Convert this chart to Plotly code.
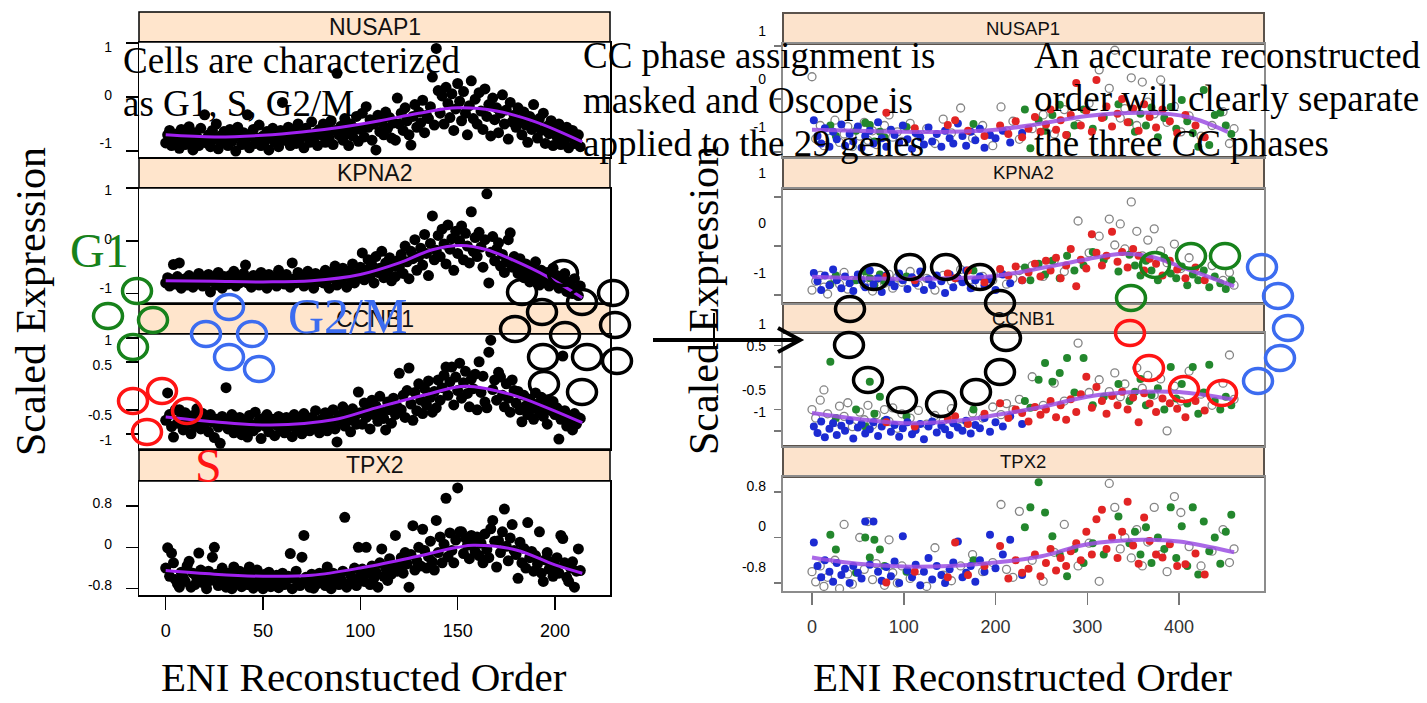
import plotly.graph_objects as go

W, H = 1427, 703

# ---------------- left: ENI reconstructed order (one value per cell, in order) ----------------
eni_nusap1 = [
    -0.85, -0.7, -0.62, -0.9, -0.75, -0.8, -0.68, -0.95, -0.6, -0.78, -0.88, -0.72, -0.55, -0.82, -0.98, -0.66, -0.74, -0.9, -0.58, -0.8,
    -0.33, -0.85, -0.7, -0.92, -0.62, -0.78, -0.5, -0.96, -0.72, -0.84, -0.64, -0.76, -0.9, -0.6, -0.82, -0.7, -1.0, -0.56, -0.74, -0.88,
    -0.66, -0.8, -0.33, -0.94, -0.7, -0.6, -0.86, -0.76, -0.52, -0.9, -0.72, -0.82, -0.64, -0.98, -0.7, -0.58, -0.84, -0.76, -0.92, -0.62,
    -0.1, -0.8, -0.7, -0.56, -0.9, -0.74, -0.62, -0.86, -0.5, -0.78, -0.68, -0.94, -0.58, -0.72, -0.84, -0.46, -0.8, -0.66, -0.9, -0.6,
    -0.7, -0.5, -0.84, -0.6, -0.76, -0.44, -0.88, -0.62, 0.44, -0.7, -0.54, -0.8, -0.4, -0.66, -0.9, -0.5, -0.72, -0.58, -0.36, -0.82,
    -0.6, -0.3, -0.74, -0.18, -0.56, -0.42, -0.8, -0.5, -0.98, -0.34, -0.64, -0.46, -0.7, -0.28, -0.58, -0.38, -0.76, -0.48, -0.8, -0.02,
    -0.5, -0.3, -0.62, -0.2, -0.44, -0.7, -0.89, -0.36, -0.14, -0.56, -0.28, -0.48, -0.06, -0.66, -0.34, -0.4, -0.18, 0.37, -0.52, 0.9,
    0.12, -0.3, 0.02, -0.5, 0.18, -0.12, -0.38, 0.06, -0.62, -0.22, 0.25, -0.08, -0.44, 0.1, -0.3, -0.7, -0.16, 0.3, -0.4, -0.04,
    -0.5, 0.08, -0.26, -0.6, 0.15, -0.36, -0.14, -0.72, -0.02, -0.42, -0.2, -0.66, -0.3, 0.04, -0.5, -0.24, -0.78, -0.1, -0.46, -0.34,
    -0.56, -0.2, -0.44, -0.7, -0.28, -0.52, -0.84, -0.36, -0.6, -0.14, -0.48, -0.76, -0.4, -0.62, -0.3, -0.86, -0.54, -0.68, -0.44, -0.9,
    -0.6, -0.74, -0.5, -0.88, -0.66, -0.8, -0.56, -0.94, -0.72, -0.62, -0.86, -0.78, -0.7, -0.92]
eni_kpna2 = [
    -0.8, -0.7, -0.86, -0.74, -0.45, -0.82, -0.68, -0.42, -0.9, -0.76, -0.72, -0.84, -0.66, -0.78, -0.88, -0.7, -0.8, -0.62, -0.74, -0.86,
    -0.72, -0.8, -0.64, -0.97, -0.76, -0.7, -0.84, -0.6, -0.78, -0.9, -0.68, -0.74, -0.82, -0.66, -0.76, -0.58, -0.86, -0.72, -0.8, -0.7,
    -0.62, -0.46, -0.8, -0.74, -0.88, -0.66, -0.76, -0.7, -0.84, -0.6, -0.78, -0.72, -0.9, -0.64, -0.8, -0.74, -0.68, -0.86, -0.56, -0.76,
    -0.7, -0.82, -0.64, -0.78, -0.88, -0.42, -0.72, -0.8, -0.6, -0.76, -0.68, -0.86, -0.7, -0.58, -0.8, -0.74, -0.9, -0.62, -0.78, -0.7,
    -0.66, -0.8, -0.56, -0.74, -0.9, -0.6, -0.7, -0.48, -0.84, -0.64, -0.76, -0.52, -0.68, -0.88, -0.58, -0.72, -0.44, -0.8, -0.62, -0.7,
    -0.5, -0.23, -0.74, -0.56, -0.36, -0.66, -0.46, -0.8, -0.3, -0.6, -0.52, -0.2, -0.7, -0.42, -0.58, -0.32, -0.76, -0.48, -0.68, -0.38,
    -0.5, -0.26, -0.62, -0.1, -0.4, -0.72, -0.2, -0.34, 0.02, -0.56, -0.3, -0.14, -0.46, 0.12, -0.24, -0.66, -0.05, 0.47, -0.36, -0.18,
    0.1, -0.3, 0.22, -0.06, -0.44, 0.3, -0.16, 0.04, -0.56, 0.18, -0.24, 0.0, 0.28, -0.36, 0.14, -0.1, -0.42, 0.55, -0.2, 0.06,
    -0.3, 0.16, -0.12, -0.5, 0.02, 0.89, -0.8, -0.22, 0.08, -0.38, -0.16, -0.04, -0.48, -0.26, -0.6, -0.4, 0.02, 0.15, -0.5, -0.3,
    -0.46, -0.62, -0.34, -0.56, -0.7, -0.44, -0.6, -0.78, -0.5, -0.66, -0.4, -0.72, -0.84, -0.56, -0.64, -0.76, -0.6, -0.86, -0.7, -0.52,
    -0.8, -0.66, -0.9, -0.74, -0.84, -0.62, -0.96, -0.78, -0.88, -1.0, -0.72, -0.92, -1.04, -0.86]
eni_ccnb1 = [
    -0.72, -0.15, -0.6, -0.85, -1.07, -0.5, -0.78, -0.5, -0.66, -0.92, -0.56, -0.8, -0.7, -1.0, -0.62, -0.84, -0.48, -0.74, -0.9, -0.58,
    -0.8, -0.68, -0.96, -0.6, -0.76, -1.08, -0.7, -0.86, -1.2, -0.64, -0.78, -0.04, -0.9, -0.72, -0.6, -0.98, -0.76, -0.84, -0.66, -1.02,
    -0.74, -0.88, -1.07, -0.62, -0.8, -0.94, -0.55, -0.86, -0.72, -1.1, -0.68, -0.84, -0.6, -0.96, -0.78, -0.7, -1.04, -0.82, -0.64, -0.9,
    -0.76, -0.98, -0.66, -0.86, -0.72, -1.06, -0.6, -0.9, -0.8, -0.7, -1.0, -0.58, -0.84, -0.74, -0.94, -0.66, -0.88, -0.52, -0.8, -0.98,
    -0.7, -0.86, -0.56, -0.94, -0.68, -0.78, -0.5, -0.9, -1.17, -0.62, -0.74, -0.44, -0.84, -0.58, -0.72, -0.96, -0.48, -0.66, -0.8, -0.13,
    -0.56, -0.8, -0.36, -0.66, -0.48, -0.9, -0.3, -0.6, -0.42, -0.74, -0.22, -0.54, -0.68, -0.92, -0.34, -0.5, -0.78, -0.26, -0.6, -0.44,
    0.26, -0.5, -0.2, -0.66, -0.1, 0.37, -0.38, -0.72, -0.14, -0.52, 0.04, -0.3, -0.58, -0.06, -0.4, 0.1, -0.24, -0.55, -0.12, -0.46,
    0.12, -0.3, -0.04, 0.22, 0.39, -0.2, 0.08, 0.39, -0.4, 0.18, -0.1, 0.47, -0.26, 0.06, 0.3, -0.16, -0.44, 0.14, -0.06, 0.24,
    -0.5, 0.5, -0.14, 0.2, -0.34, -0.46, 0.7, 0.95, -0.08, 0.12, -0.3, 0.28, 0.18, -0.2, -0.44, 0.04, -0.26, -0.55, 0.12, -0.1,
    -0.36, -0.12, -0.5, -0.75, -0.2, -0.42, -0.6, -0.28, -0.48, -0.7, -0.15, -0.38, -0.56, -0.24, -0.64, -0.44, -0.8, -0.32, -0.52, -0.33,
    -0.6, -0.46, -1.11, -0.7, 0.62, -0.52, -0.84, -0.62, -0.74, -0.92, -0.58, -0.8, -0.66, -0.68]
eni_tpx2 = [
    -0.4, -0.01, -0.56, -0.11, -0.3, -0.62, -0.7, -0.77, -0.48, -0.58, -0.66, -0.36, -0.27, -0.77, -0.5, -0.72, -0.6, -0.11, -0.44, -0.68,
    -0.56, -0.8, -0.46, -0.64, -0.19, 0.0, -0.52, -0.74, -0.6, -0.4, -0.7, -0.77, -0.5, -0.62, -0.8, -0.38, -0.54, -0.68, -0.46, -0.76,
    -0.6, -0.5, -0.72, -0.38, -0.56, -0.79, -0.64, -0.44, -0.7, -0.58, -0.8, -0.52, -0.66, -0.48, -0.76, -0.6, -0.7, -0.54, -0.78, -0.62,
    -0.5, -0.72, -0.64, -0.56, -0.12, -0.8, -0.6, -0.46, -0.68, -0.74, -0.19, 0.23, -0.58, -0.66, -0.77, -0.52, -0.79, -0.6, -0.7, -0.5,
    -0.64, -0.56, -0.74, -0.38, -0.6, -0.8, -0.5, -0.68, -0.58, -0.72, -0.62, -0.46, 0.58, -0.77, -0.7, -0.54, -0.64, -0.4, -0.74, 0.0,
    -0.56, -0.42, -0.66, 0.0, -0.5, -0.72, -0.36, -0.6, -0.48, -0.77, -0.3, -0.03, -0.56, -0.4, -0.64, -0.22, -0.52, -0.34, 0.23, -0.46,
    -0.38, -0.2, -0.5, -0.1, -0.32, -0.77, -0.14, 0.42, -0.44, -0.26, 0.0, -0.36, 0.35, -0.06, -0.4, -0.18, 0.12, -0.28, -0.44, 0.52,
    -0.1, 0.2, -0.3, 0.06, 0.95, -0.18, 0.28, -0.06, -0.3, 0.14, 1.15, 0.3, 0.3, -0.12, 0.18, 0.04, -0.22, 0.23, 0.1, -0.08,
    0.2, -0.16, 0.08, -0.3, 0.26, -0.04, -0.2, 0.36, 0.52, 0.12, -0.38, 0.13, -0.1, 0.3, 0.74, 0.02, -0.26, 0.18, 0.44, -0.06,
    -0.14, -0.6, 0.1, -0.3, -0.02, -0.4, 0.48, -0.2, -0.08, -0.46, -0.16, -0.32, 0.3, -0.5, -0.66, -0.24, -0.1, -0.42, -0.28, -0.56,
    -0.36, -0.2, -0.5, 0.23, 0.17, -0.3, -0.58, -0.66, -0.4, -0.28, -0.77, -0.46, -0.03, -0.45]

eni_fit_nusap1_x = [0, 25, 50, 70, 90, 110, 130, 150, 170, 190, 214]
eni_fit_nusap1_y = [-0.70, -0.74, -0.71, -0.65, -0.56, -0.44, -0.30, -0.20, -0.26, -0.46, -0.83]
eni_fit_kpna2_x = [0, 25, 50, 75, 100, 120, 137, 152, 165, 178, 196, 214]
eni_fit_kpna2_y = [-0.76, -0.77, -0.78, -0.76, -0.64, -0.42, -0.17, -0.09, -0.17, -0.36, -0.68, -1.08]
eni_fit_ccnb1_x = [0, 25, 54, 86, 108, 137, 154, 178, 196, 214]
eni_fit_ccnb1_y = [-0.65, -0.75, -0.82, -0.71, -0.46, -0.15, -0.01, -0.19, -0.46, -0.77]
eni_fit_tpx2_x = [0, 25, 50, 75, 100, 125, 150, 158, 180, 200, 214]
eni_fit_tpx2_y = [-0.45, -0.52, -0.56, -0.54, -0.40, -0.21, 0.00, 0.04, -0.05, -0.34, -0.50]

# ---------------- right: Oscope order, cells coloured by CC phase ----------------
osc_blue_x = [2, 6, 10, 14, 19, 23, 27, 32, 36, 41, 45, 50, 54, 58, 63, 67, 72, 76, 81, 86, 90, 95, 99, 104, 109, 113, 118, 122,
              127, 131, 136, 141, 145, 150, 154, 159, 164, 168, 173, 178, 183, 188, 194, 200, 208, 216, 229]
osc_red_x = [81, 112, 148, 156, 170, 188, 205, 214, 222, 229, 236, 243, 249, 255, 260, 266, 271, 277, 282, 288, 293, 299, 305,
             310, 316, 321, 327, 333, 338, 344, 350, 356, 362, 368, 375, 382, 390, 398, 407, 418, 428]
osc_green_x = [20, 26, 48, 58, 63, 68, 74, 79, 103, 176, 232, 238, 247, 254, 262, 270, 278, 286, 296, 306, 318, 334, 346, 352,
               358, 364, 370, 377, 384, 391, 397, 403, 409, 415, 421, 427, 433, 439, 445, 451, 457]
osc_gray_x = [0, 4, 9, 13, 17, 25, 30, 35, 39, 44, 52, 57, 61, 66, 70, 79, 84, 88, 93, 98, 107, 116, 125, 134, 143, 152, 162,
              175, 186, 197, 206, 212, 219, 226, 240, 252, 264, 275, 290, 302, 313, 324, 330, 336, 341, 348, 354, 360, 366, 373,
              380, 387, 395, 402, 411, 424, 436, 448, 455, 460]

osc_nusap1_blue = [-0.4, -0.7, -0.84, -0.55, -0.9, -0.62, -0.76, -0.48, -0.88, -0.66, -0.8, -0.52, -0.92, -0.7, -0.6, -0.84,
                   -0.44, -0.74, -0.9, -0.58, -0.68, -0.82, -0.5, -0.76, -0.94, -0.64, -0.72, -0.86, -0.54, -0.8, -0.66, -0.9,
                   -0.6, -0.74, -0.84, -0.46, -0.7, -0.88, -0.62, -0.78, -0.56, -0.92, -0.68, -0.74, -0.6, -0.82, -0.64]
osc_nusap1_red = [-0.26, -0.55, -0.49, -0.4, -0.6, -0.7, -0.5, -0.66, -0.42, -0.72, -0.56, -0.34, -0.62, -0.48, -0.2, -0.58,
                  -0.4, -0.68, -0.3, 0.3, -0.5, -0.22, -0.62, 0.36, -0.36, -0.14, -0.52, -0.28, 0.0, -0.44, -0.18, -0.6, -0.1,
                  -0.34, -0.54, -0.2, -0.42, -0.64, -0.3, -0.5, -0.72]
osc_nusap1_green = [-0.5, -0.7, -0.6, -0.45, -0.49, -0.8, -0.62, -0.72, -0.53, -0.47, -0.2, -0.93, -0.4, -0.6, -0.3, -0.11,
                    -0.68, -0.5, -0.2, -0.56, -0.34, -0.1, -0.44, -0.62, -0.28, -0.5, -0.16, -0.72, -0.36, -0.15, -0.56, -0.02,
                    -0.42, -0.64, -0.9, 0.17, -0.87, -0.3, -0.26, -0.5, -0.66]
osc_nusap1_gray = [0.42, -0.75, -0.5, -0.88, -0.6, -0.4, -0.82, -0.66, -0.52, -0.9, -0.7, -0.44, -0.78, -0.6, -0.86, -0.5, -0.3,
                   -0.72, -0.62, -0.8, -0.46, -0.68, -0.56, -0.84, -0.38, -0.64, -0.17, -0.74, -0.5, -0.88, -0.15, -0.6, -0.42,
                   -0.76, -0.56, -0.3, -0.66, -0.2, -0.48, -0.08, 0.55, 0.2, 0.92, -0.36, -0.18, 0.4, -0.5, 0.32, -0.06, -0.28,
                   0.36, -0.44, -0.14, -0.62, -0.32, -0.7, -0.5, -0.24, -0.84, -0.56]

osc_kpna2_blue = [-0.55, -0.72, -0.9, -0.6, -0.8, -0.48, -0.7, -0.86, -0.62, -0.76, -0.92, -0.58, -0.7, -0.84, -0.5, -0.78,
                  -0.66, -0.94, -0.6, -0.74, -0.82, -0.56, -0.7, -0.88, -0.64, -0.76, -0.52, -0.9, -0.68, -0.8, -0.6, -0.72,
                  -0.96, -0.58, -0.84, -0.66, -0.74, -0.5, -0.86, -0.7, -0.62, -0.8, -0.68, -0.9, -0.58, -0.76, -0.7]
osc_kpna2_red = [-0.62, -0.7, -0.56, -0.66, -0.5, -0.74, -0.47, -0.6, -0.42, -0.7, -0.54, -0.36, -0.62, -0.3, -0.5, -0.24, -0.66,
                 -0.4, -0.06, -0.82, -0.28, -0.46, 0.24, -0.14, -0.4, -0.2, 0.29, -0.32, -0.12, -0.44, -0.06, -0.2, -0.5, -0.26,
                 -0.36, -0.6, -0.3, -0.48, -0.66, -0.44, -0.7]
osc_kpna2_green = [-0.78, -0.6, -0.7, -0.52, -0.66, -0.8, -0.58, -0.72, -0.62, -0.5, -0.44, -0.7, -0.36, -0.58, -0.3, -0.66,
                   -0.2, -0.5, -0.4, -0.12, -0.28, -0.52, -0.18, -0.4, -0.6, -0.3, -0.5, -0.7, -0.24, -0.56, -0.66, -0.42, -0.8,
                   -0.58, -0.7, -0.5, -0.84, -0.62, -0.76, -0.88, -0.7]
osc_kpna2_gray = [-0.9, -0.72, -0.6, -0.84, -0.98, -0.66, -0.78, -0.54, -0.88, -0.7, -0.62, -0.8, -0.5, -0.92, -0.68, -0.76,
                  -0.58, -0.86, -0.64, -0.74, -0.52, -0.8, -0.66, -0.9, -0.6, -0.72, -0.48, -0.84, -0.62, -0.7, -0.56, -0.78,
                  -0.66, -0.5, -0.4, -0.62, -0.3, -0.52, 0.51, -0.14, 0.2, 0.55, 0.02, 0.45, -0.06, 0.9, 0.3, -0.2, 0.12, 0.35,
                  -0.1, -0.34, 0.04, -0.46, -0.24, -0.6, -0.4, -0.7, -0.54, -0.8]

osc_ccnb1_blue = [-0.9, -1.05, -0.78, -1.15, -0.95, -0.82, -1.1, -0.88, -1.0, -0.76, -1.18, -0.92, -0.84, -1.06, -0.96, -0.8,
                  -1.12, -0.9, -0.74, -1.02, -0.86, -1.14, -0.94, -0.8, -1.08, -0.98, -0.84, -1.2, -0.9, -0.78, -1.04, -0.88,
                  -0.96, -1.1, -0.82, -0.92, -1.0, -0.76, -1.06, -0.86, -0.94, -0.7, -1.02, -0.8, -0.9, -0.66, -0.84]
osc_ccnb1_red = [-0.8, -0.9, -0.72, -0.66, -0.84, -0.6, -0.35, -0.7, -0.5, -0.58, -0.78, -0.44, -0.62, -0.5, -0.3, -0.68, -0.4,
                 -0.74, -0.26, -0.56, -0.14, 0.27, -0.46, 0.03, -0.3, -0.6, -0.18, -0.4, -0.08, -0.5, -0.22, -0.8, -0.12, -0.36,
                 -0.56, -0.24, -0.35, -0.48, -0.68, -0.3, -0.52]
osc_ccnb1_green = [0.62, -0.7, -0.5, -0.9, 0.15, -0.6, -0.2, -0.76, -0.66, -0.5, -0.3, -0.46, 0.2, 0.59, 0.15, 0.36, 0.71, -0.1,
                   0.71, -0.4, -0.2, 0.1, -0.3, -0.08, 0.22, -0.4, -0.16, 0.0, -0.5, 0.5, -0.24, 0.1, -0.36, 0.5, -0.6, -0.1,
                   0.55, -0.3, -0.5, -0.2, -0.4]
osc_ccnb1_gray = [-0.5, -0.7, -0.28, -0.04, -0.6, -0.8, -0.42, -0.66, -0.34, -0.9, -0.56, -0.74, -0.4, -0.86, -0.62, -0.5,
                  -0.78, -0.46, -0.94, -0.6, -0.7, -0.52, -0.84, -0.64, -0.76, -0.48, -0.9, -0.58, -0.7, -0.44, -0.62, -0.36,
                  -0.5, -0.26, 0.27, -0.4, 0.12, -0.3, 1.06, -0.1, 0.2, -0.08, 0.36, -0.2, 0.1, -0.23, 0.48, 0.0, 0.3, -0.16,
                  0.22, -1.0, 0.05, -0.3, 0.4, -0.14, -0.4, 0.12, 0.78, -0.26]

osc_tpx2_blue = [-0.09, -0.5, -0.7, -0.4, -0.6, -0.78, -0.45, -0.66, -0.55, -0.8, -0.5, -0.62, -0.72, 0.28, -0.48, 0.28, -0.6,
                 -0.76, -0.52, -0.68, -0.42, -0.8, 0.02, -0.58, -0.7, -0.48, -0.84, -0.6, -0.36, -0.74, -0.5, -0.66, -0.8,
                 -0.56, -0.44, -0.07, -0.7, -0.62, -0.5, -0.78, -0.4, -0.6, 0.05, -0.54, -0.3, -0.04, -0.66]
osc_tpx2_red = [-0.79, -0.6, -0.7, -0.09, -0.66, -0.5, -0.15, -0.72, -0.4, -0.62, -0.55, -0.3, -0.68, -0.45, -0.2, -0.58, -0.36,
                -0.5, -0.24, -0.1, -0.4, 0.1, -0.3, 0.32, 0.49, -0.2, 0.0, -0.36, 0.1, 0.63, -0.14, -0.46, 0.35, -0.06, -0.3,
                -0.35, -0.12, -0.5, -0.47, -0.28, -0.65]
osc_tpx2_green = [0.05, -0.21, -0.62, 0.0, -0.35, -0.04, -0.21, -0.5, -0.6, -0.4, 0.18, 0.53, 0.97, 0.44, 0.02, -0.3, -0.68,
                  -0.2, -0.45, -0.1, -0.3, 0.37, -0.1, 0.1, -0.3, 0.18, -0.45, 0.0, -0.2, 0.53, -0.36, 0.2, -0.5, 0.53, -0.65,
                  0.28, -0.24, 0.0, -0.46, 0.1, 0.4]
osc_tpx2_gray = [-0.6, -0.78, -0.5, -0.86, -0.7, -0.4, -0.9, 0.23, -0.64, -0.82, 0.0, -0.56, 0.28, -0.74, -0.46, -0.84, -0.04,
                 -0.62, -0.8, -0.5, -0.72, -0.58, -0.86, -0.18, -0.66, -0.76, -0.5, -0.3, -0.6, -0.44, 0.58, -0.56, -0.7, 0.46,
                 -0.4, -0.77, -0.26, 0.23, -0.5, -0.1, -0.77, 0.95, 0.53, -0.2, 0.0, -0.36, 0.14, -0.5, -0.08, 0.53, -0.3, -0.6,
                 0.72, 0.44, -0.16, -0.5, -0.24, 0.14, -0.44, -0.2]

osc_fit_nusap1_x = [0, 50, 100, 150, 200, 241, 300, 365, 410, 453]
osc_fit_nusap1_y = [-0.58, -0.60, -0.62, -0.62, -0.58, -0.49, -0.32, -0.26, -0.34, -0.62]
osc_fit_kpna2_x = [0, 100, 200, 250, 300, 339, 370, 400, 460]
osc_fit_kpna2_y = [-0.63, -0.67, -0.61, -0.45, -0.27, -0.16, -0.22, -0.41, -0.82]
osc_fit_ccnb1_x = [0, 50, 100, 150, 200, 250, 300, 350, 400, 460]
osc_fit_ccnb1_y = [-0.58, -0.72, -0.82, -0.78, -0.63, -0.44, -0.20, -0.09, -0.09, -0.27]
osc_fit_tpx2_x = [0, 50, 100, 150, 200, 250, 300, 360, 400, 460]
osc_fit_tpx2_y = [-0.35, -0.46, -0.51, -0.50, -0.44, -0.33, -0.12, -0.04, -0.07, -0.26]

genes = ["NUSAP1", "KPNA2", "CCNB1", "TPX2"]
ticks_pm1 = [1, 0, -1]
ticks_pm1_text = ["1", "0", "-1"]
ticks_ccnb1 = [1, 0.5, -0.5, -1]
ticks_ccnb1_text = ["1", "0.5", "-0.5", "-1"]
ticks_tpx2 = [0.8, 0, -0.8]
ticks_tpx2_text = ["0.8", "0", "-0.8"]
eni_xticks = [0, 50, 100, 150, 200]
osc_xticks = [0, 100, 200, 300, 400]

# ---------------- helpers (pixel geometry of the page) ----------------
def fx(p):
    return p / W

def fy(p):
    return 1 - p / H

def val_at(p, cal):
    v1, p1, v2, p2 = cal
    return v1 + (p - p1) * (v2 - v1) / (p2 - p1)

def aname(k):
    return "" if k == 1 else str(k)

SANS = "Liberation Sans, Arial, sans-serif"
NARROW = "Liberation Sans Narrow, Arial Narrow, Liberation Sans, sans-serif"
SERIF = "Liberation Serif, Times New Roman, serif"

sides = {
    "L": dict(x=(139, 610), xcal=(0, 165.7, 200, 555), xticks=eni_xticks, line="black", lw=1.5, tickc="black",
              yticklen=12, xticklen=13, labfont=14, labstand=26, xfont=dict(family=SANS, size=18, color="black"),
              strip_fill="#ffe5cc", strip_line="black", strip_lw=1.5, strip_font=23),
    "R": dict(x=(783, 1264), xcal=(0, 812, 400, 1179), xticks=osc_xticks, line="#8c8c8c", lw=2, tickc="#777777",
              yticklen=7, xticklen=12, labfont=14, labstand=16, xfont=dict(family=NARROW, size=18, color="#333333"),
              strip_fill="#fce3cc", strip_line="#5b534c", strip_lw=2, strip_font=18.5),
}

# side, gene, strip (top,bottom), panel (top,bottom), tick calibration, label calibration, tickvals, ticktext
panels = [
    ("L", 0, (12, 42), (42, 157), (1, 43, -1, 151), (1, 47, -1, 143), ticks_pm1, ticks_pm1_text),
    ("L", 1, (158, 188), (188, 303), (1, 188, -1, 293.5), (1, 190, -1, 288), ticks_pm1, ticks_pm1_text),
    ("L", 2, (303, 334), (334, 449), (1, 337.75, -1, 433.75), (1, 340, -1, 440), ticks_ccnb1, ticks_ccnb1_text),
    ("L", 3, (449, 481), (481, 595), (0.8, 506, -0.8, 588.7), (0.8, 503, -0.8, 585), ticks_tpx2, ticks_tpx2_text),
    ("R", 0, (13, 44), (44, 157), (1, 46, -1, 152), (1, 31, -1, 127), ticks_pm1, ticks_pm1_text),
    ("R", 1, (157, 189), (189, 303), (1, 197, -1, 295), (1, 173, -1, 273), ticks_pm1, ticks_pm1_text),
    ("R", 2, (303, 333), (333, 446), (1, 345.65, -1, 430.85), (1, 324.2, -1, 411.8), ticks_ccnb1, ticks_ccnb1_text),
    ("R", 3, (446, 477), (477, 591), (0.8, 492, -0.8, 583), (0.8, 486, -0.8, 567), ticks_tpx2, ticks_tpx2_text),
]

eni_vals = [eni_nusap1, eni_kpna2, eni_ccnb1, eni_tpx2]
eni_fits = [(eni_fit_nusap1_x, eni_fit_nusap1_y), (eni_fit_kpna2_x, eni_fit_kpna2_y),
            (eni_fit_ccnb1_x, eni_fit_ccnb1_y), (eni_fit_tpx2_x, eni_fit_tpx2_y)]
osc_vals = [
    dict(gray=osc_nusap1_gray, green=osc_nusap1_green, blue=osc_nusap1_blue, red=osc_nusap1_red),
    dict(gray=osc_kpna2_gray, green=osc_kpna2_green, blue=osc_kpna2_blue, red=osc_kpna2_red),
    dict(gray=osc_ccnb1_gray, green=osc_ccnb1_green, blue=osc_ccnb1_blue, red=osc_ccnb1_red),
    dict(gray=osc_tpx2_gray, green=osc_tpx2_green, blue=osc_tpx2_blue, red=osc_tpx2_red),
]
osc_fits = [(osc_fit_nusap1_x, osc_fit_nusap1_y), (osc_fit_kpna2_x, osc_fit_kpna2_y),
            (osc_fit_ccnb1_x, osc_fit_ccnb1_y), (osc_fit_tpx2_x, osc_fit_tpx2_y)]
osc_xs = dict(gray=osc_gray_x, green=osc_green_x, blue=osc_blue_x, red=osc_red_x)
osc_colors = dict(green="#23872d", blue="#1c2bd2", red="#e22424")

fig = go.Figure()
layout = {}
shapes = []
annotations = []

for k0, (side, g, strip, pan, ycal, lcal, tv, tt) in enumerate(panels):
    k = k0 + 1
    S = sides[side]
    xa, ya, la = "x" + aname(k), "y" + aname(k), "y" + str(k + 8)
    bottom = g == 3

    if side == "L":
        vals = eni_vals[g]
        fig.add_trace(go.Scatter(x=list(range(len(vals))), y=vals, mode="markers",
                                 marker=dict(size=11, color="black", line=dict(width=0)),
                                 xaxis=xa, yaxis=ya, showlegend=False, hoverinfo="skip"))
        fxs, fys = eni_fits[g]
        fig.add_trace(go.Scatter(x=fxs, y=fys, mode="lines",
                                 line=dict(color="#a020f0", width=3, shape="spline", smoothing=1.0),
                                 xaxis=xa, yaxis=ya, showlegend=False, hoverinfo="skip"))
    else:
        for phase in ["gray", "green", "blue", "red"]:
            xs = osc_xs[phase]
            ys = osc_vals[g][phase]
            n = min(len(xs), len(ys))
            if phase == "gray":
                mk = dict(size=8, symbol="circle-open", color="#858585", line=dict(width=1.3, color="#858585"))
            else:
                mk = dict(size=8, color=osc_colors[phase], line=dict(width=0))
            fig.add_trace(go.Scatter(x=xs[:n], y=ys[:n], mode="markers", marker=mk,
                                     xaxis=xa, yaxis=ya, showlegend=False, hoverinfo="skip"))
        fxs, fys = osc_fits[g]
        fig.add_trace(go.Scatter(x=fxs, y=fys, mode="lines", opacity=0.85,
                                 line=dict(color="#9b4fe3", width=4, shape="spline", smoothing=1.0),
                                 xaxis=xa, yaxis=ya, showlegend=False, hoverinfo="skip"))
    fig.add_trace(go.Scatter(x=[], y=[], xaxis=xa, yaxis=la, showlegend=False, hoverinfo="skip"))

    x0, x1 = S["x"]
    layout["xaxis" + aname(k)] = dict(
        domain=[fx(x0), fx(x1)], range=[val_at(x0, S["xcal"]), val_at(x1, S["xcal"])], anchor=ya,
        showline=True, mirror=True, linecolor=S["line"], linewidth=S["lw"], showgrid=False, zeroline=False,
        ticks="outside" if bottom else "", tickvals=S["xticks"], ticklen=S["xticklen"], tickwidth=1.5,
        tickcolor=S["tickc"], showticklabels=bottom, tickfont=S["xfont"], ticklabelstandoff=6)
    layout["yaxis" + aname(k)] = dict(
        domain=[fy(pan[1]), fy(pan[0])], range=[val_at(pan[1], ycal), val_at(pan[0], ycal)], anchor=xa,
        showline=True, mirror=True, linecolor=S["line"], linewidth=S["lw"], showgrid=False, zeroline=False,
        ticks="outside", tickvals=tv, ticklen=S["yticklen"], tickwidth=1.5, tickcolor=S["tickc"],
        showticklabels=False)
    layout["yaxis" + str(k + 8)] = dict(
        domain=[fy(pan[1]), fy(strip[0])], range=[val_at(pan[1], lcal), val_at(strip[0], lcal)], anchor=xa,
        side="left", showline=False, showgrid=False, zeroline=False, ticks="", tickvals=tv, ticktext=tt,
        tickfont=dict(family=SANS, size=S["labfont"], color="black"), ticklabelstandoff=S["labstand"])

    shapes.append(dict(type="rect", xref="paper", yref="paper", x0=fx(x0), x1=fx(x1),
                       y0=fy(strip[1]), y1=fy(strip[0]), fillcolor=S["strip_fill"],
                       line=dict(color=S["strip_line"], width=S["strip_lw"]), layer="below"))
    annotations.append(dict(text=genes[g], xref="paper", yref="paper", x=fx((x0 + x1) / 2),
                            y=fy((strip[0] + strip[1]) / 2), xanchor="center", yanchor="middle", showarrow=False,
                            font=dict(family=SANS, size=S["strip_font"], color="#111111")))

# ---------------- decorations ----------------
GREEN = "#17821b"
BLUE = "#3c6cf0"
RED = "#ff1414"
rings = {
    GREEN: [(137, 291), (108, 316), (153, 320), (133, 347), (1131, 298), (1155, 265), (1191, 256), (1225, 256)],
    BLUE: [(229, 307), (206, 334), (252, 334), (229, 357), (259, 369),
           (1262, 267), (1278, 296), (1288, 328), (1280, 358), (1258, 381)],
    RED: [(133, 401), (162, 391), (187, 411), (147, 432), (1130, 333), (1149, 368), (1184, 389), (1222, 393)],
    "black": [(563, 273), (522, 292), (582, 302), (613, 293), (542, 312), (515, 329), (565, 335), (615, 325),
              (543, 357), (587, 357), (617, 361), (544, 384), (582, 392),
              (874, 277), (910, 267), (946, 267), (980, 277), (1000, 303), (1006, 338), (1000, 372), (976, 392),
              (941, 404), (902, 400), (868, 380), (849, 345), (850, 309)],
}
for col, pts in rings.items():
    for cx, cy in pts:
        shapes.append(dict(type="circle", xref="paper", yref="paper", x0=fx(cx - 14.5), x1=fx(cx + 14.5),
                           y0=fy(cy + 12.5), y1=fy(cy - 12.5), line=dict(color=col, width=3.5), layer="above"))

shapes.append(dict(type="line", xref="paper", yref="paper", x0=fx(653), y0=fy(340), x1=fx(798), y1=fy(340),
                   line=dict(color="black", width=4), layer="above"))
shapes.append(dict(type="path", xref="paper", yref="paper",
                   path="M {:.5f},{:.5f} L {:.5f},{:.5f} L {:.5f},{:.5f}".format(
                       fx(778), fy(328), fx(800), fy(340), fx(778), fy(352)),
                   line=dict(color="black", width=4), layer="above"))
shapes.append(dict(type="line", xref="paper", yref="paper", x0=fx(714), y0=fy(313), x1=fx(714), y1=fy(346),
                   line=dict(color="black", width=2), layer="above"))

def txt(s, x, y, size, color="black", xanchor="left", angle=0, family=SERIF, yanchor="middle"):
    annotations.append(dict(text=s, xref="paper", yref="paper", x=fx(x), y=fy(y), xanchor=xanchor,
                            yanchor=yanchor, showarrow=False, textangle=angle,
                            font=dict(family=family, size=size, color=color)))

txt("Cells are characterized", 121, 60, 37)
txt("as G1, S, G2/M", 121, 103, 37)
txt("CC phase assignment is", 581, 55, 37)
txt("masked and Oscope is", 581, 100, 37)
txt("applied to the 29 genes", 581, 143, 37)
txt("An accurate reconstructed", 1032, 55, 37)
txt("order will clearly separate", 1032, 99, 37)
txt("the three CC phases", 1032, 143, 37)
txt("G1", 99, 250, 48, GREEN, "center")
txt("G2/M", 347, 316, 50, BLUE, "center")
txt("S", 208, 465, 48, RED, "center")
txt("Scaled Expression", 31, 302, 42, angle=-90, xanchor="center")
txt("Scaled Expression", 704, 301, 42, angle=-90, xanchor="center")
txt("ENI Reconstucted Order", 364, 702, 41, xanchor="center", yanchor="bottom")
txt("ENI Reconstructed Order", 1022, 702, 41, xanchor="center", yanchor="bottom")

fig.update_layout(**layout)
fig.update_layout(width=W, height=H, autosize=False, margin=dict(l=0, r=0, t=0, b=0, pad=0),
                  paper_bgcolor="white", plot_bgcolor="rgba(0,0,0,0)", showlegend=False,
                  shapes=shapes, annotations=annotations)

fig.write_html("out.html", config={"displayModeBar": False, "staticPlot": True},
               post_script="document.body.style.margin='0';document.body.style.overflow='hidden';")
